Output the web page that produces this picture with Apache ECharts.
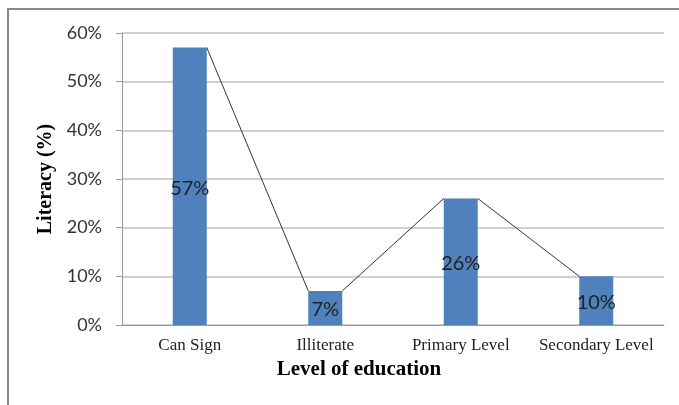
<!DOCTYPE html>
<html>
<head>
<meta charset="utf-8">
<script src="https://cdn.jsdelivr.net/npm/echarts@6/dist/echarts.min.js"></script>
<style>
html, body { margin: 0; padding: 0; background: #fff; }
#main { width: 679px; height: 405px; }
</style>
</head>
<body>
<div id="main"></div>
<script>
// data
var categories = ['Can Sign', 'Illiterate', 'Primary Level', 'Secondary Level'];
var literacy = [57, 7, 26, 10];
var yTicks = [0, 10, 20, 30, 40, 50, 60];

var myChart = echarts.init(document.getElementById('main'));

// line joining the bar tops: top-right corner of one bar to top-left of the next
function renderLink(params, api) {
    var i = api.value(0);
    if (i >= literacy.length - 1) return null;
    var w = 34;
    var a = api.coord([i, literacy[i]]);
    var b = api.coord([i + 1, literacy[i + 1]]);
    return {
        type: 'line',
        shape: { x1: a[0] + w / 2, y1: a[1], x2: b[0] - w / 2, y2: b[1] },
        style: { stroke: '#333', lineWidth: 1 }
    };
}

var option = {
    animation: false,
    grid: { left: 122, right: 15, top: 33, bottom: 80 },
    graphic: [{
        type: 'rect',
        shape: { x: 8, y: 9, width: 720, height: 450 },
        style: { fill: 'none', stroke: '#888', lineWidth: 2 },
        silent: true
    }],
    xAxis: {
        type: 'category',
        data: categories,
        name: 'Level of education',
        nameLocation: 'middle',
        nameGap: 31,
        nameTextStyle: {
            fontFamily: 'Liberation Serif', fontWeight: 'bold', fontSize: 21, color: '#000',
            padding: [0, 68, 0, 0]  // title sits left of the plot centre
        },
        axisLine: { lineStyle: { color: '#999', width: 1 } },
        axisTick: { show: false },
        axisLabel: { interval: 0, fontFamily: 'Liberation Serif', fontSize: 17, color: '#222', margin: 12 }
    },
    yAxis: {
        type: 'value',
        min: 0,
        max: 60,
        interval: 10,
        name: 'Literacy (%)',
        nameLocation: 'middle',
        nameGap: 66,
        nameTextStyle: { fontFamily: 'Liberation Serif', fontWeight: 'bold', fontSize: 20, color: '#000' },
        axisLine: { show: true, lineStyle: { color: '#999', width: 1 } },
        axisTick: { show: true, length: 6, lineStyle: { color: '#999' } },
        axisLabel: {
            fontFamily: 'Lato', fontSize: 18, color: '#333', margin: 20,
            formatter: function (v) { return yTicks.indexOf(v) >= 0 ? v + '%' : ''; }
        },
        splitLine: { lineStyle: { color: '#c0c0c0', width: 1.5 } }
    },
    series: [{
        type: 'bar',
        data: literacy,
        barWidth: 34,
        itemStyle: { color: '#4F81BD' },
        label: {
            show: true,
            position: 'inside',
            offset: [0, 2],
            formatter: '{c}%',
            fontFamily: 'Lato',
            fontSize: 20,
            color: '#222'
        }
    }, {
        type: 'custom',
        renderItem: renderLink,
        data: literacy.map(function (v, i) { return [i, v]; }),
        encode: { x: 0, y: 1 },
        z: 5,
        silent: true
    }]
};
myChart.setOption(option);
</script>
</body>
</html>
